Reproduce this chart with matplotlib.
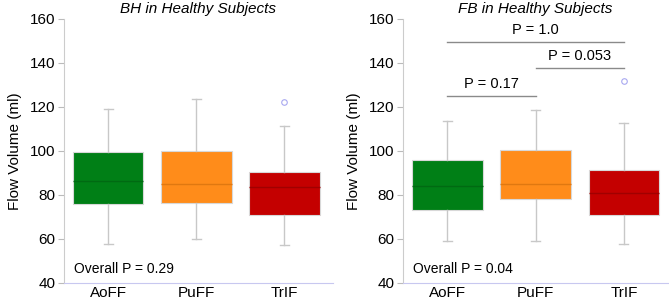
import matplotlib
matplotlib.use("Agg")
import matplotlib.pyplot as plt

plt.rcParams["font.family"] = ["Liberation Sans", "DejaVu Sans"]

groups = ["AoFF", "PuFF", "TrIF"]
box_colors = ["#007f16", "#ff8c1a", "#c40000"]
median_colors = ["#006a12", "#e07810", "#a00000"]

# (whislo, q1, med, q3, whishi, fliers)
bh_stats = [
    (57.6, 76.0, 86.5, 99.7, 119.0, []),
    (60.0, 76.5, 84.9, 99.8, 123.5, []),
    (57.3, 71.0, 83.5, 90.6, 111.5, [122.1]),
]
fb_stats = [
    (59.1, 73.2, 84.1, 95.8, 113.6, []),
    (59.1, 78.2, 84.9, 100.3, 118.6, []),
    (57.6, 71.0, 80.9, 91.4, 112.7, [131.8]),
]

# pairwise comparisons in FB panel: (group a, group b, line height, label)
fb_pairs = [(1, 2, 125.1, "P = 0.17"), (2, 3, 137.6, "P = 0.053"), (1, 3, 149.7, "P = 1.0")]

panels = [
    ("BH in Healthy Subjects", bh_stats, "Overall P = 0.29", [], (0.5, 3.55)),
    ("FB in Healthy Subjects", fb_stats, "Overall P = 0.04", fb_pairs, (0.5, 3.5)),
]

fig = plt.figure(figsize=(6.69, 3.01), dpi=100)
W, H = 669, 301
ax_rects = [
    [64 / W, 1 - 283 / H, (333 - 64) / W, (283 - 19) / H],
    [403 / W, 1 - 283 / H, (668 - 403) / W, (283 - 19) / H],
]

for rect, (title, stats, overall, pairs, xlim) in zip(ax_rects, panels):
    ax = fig.add_axes(rect)
    bxp = []
    for lab, (lo, q1, med, q3, hi, fl) in zip(groups, stats):
        bxp.append(dict(label=lab, whislo=lo, q1=q1, med=med, q3=q3, whishi=hi, fliers=fl))
    res = ax.bxp(bxp, positions=[1, 2, 3], widths=0.8, patch_artist=True,
                 showfliers=True,
                 whiskerprops=dict(color="#c8c8c8", linewidth=1),
                 capprops=dict(color="#c8c8c8", linewidth=1),
                 flierprops=dict(marker="o", markersize=4, markerfacecolor="none",
                                 markeredgecolor="#a8a8f0", markeredgewidth=0.8),
                 capwidths=0.1)
    for patch, c in zip(res["boxes"], box_colors):
        patch.set_facecolor(c)
        patch.set_edgecolor("#d8d8d8")
        patch.set_linewidth(0.8)
    for m, c in zip(res["medians"], median_colors):
        m.set_color(c)
        m.set_linewidth(1)

    for a, b, h, lab in pairs:
        ax.plot([a, b], [h, h], color="#8a8a8a", linewidth=1)
        ax.text((a + b) / 2, h + 2.2, lab, ha="center", va="bottom", fontsize=10.5)

    ax.text(0.61, 46.5, overall, ha="left", va="center", fontsize=10)
    ax.set_xlim(*xlim)
    ax.set_ylim(40, 160)
    ax.set_yticks(range(40, 161, 20))
    ax.set_xticks([1, 2, 3])
    ax.set_xticklabels(groups, fontsize=11)
    ax.tick_params(axis="y", labelsize=11, color="#bbbbbb", length=4, pad=2)
    ax.tick_params(axis="x", length=0, pad=2)
    for s in ["top", "right"]:
        ax.spines[s].set_visible(False)
    ax.spines["left"].set_color("#cccccc")
    ax.spines["bottom"].set_color("#c8c8f0")
    ax.set_ylabel("Flow Volume (ml)", fontsize=11, labelpad=6)
    ax.set_title(title, fontsize=11, style="italic", pad=4)

fig.savefig("out.png", dpi=100)
